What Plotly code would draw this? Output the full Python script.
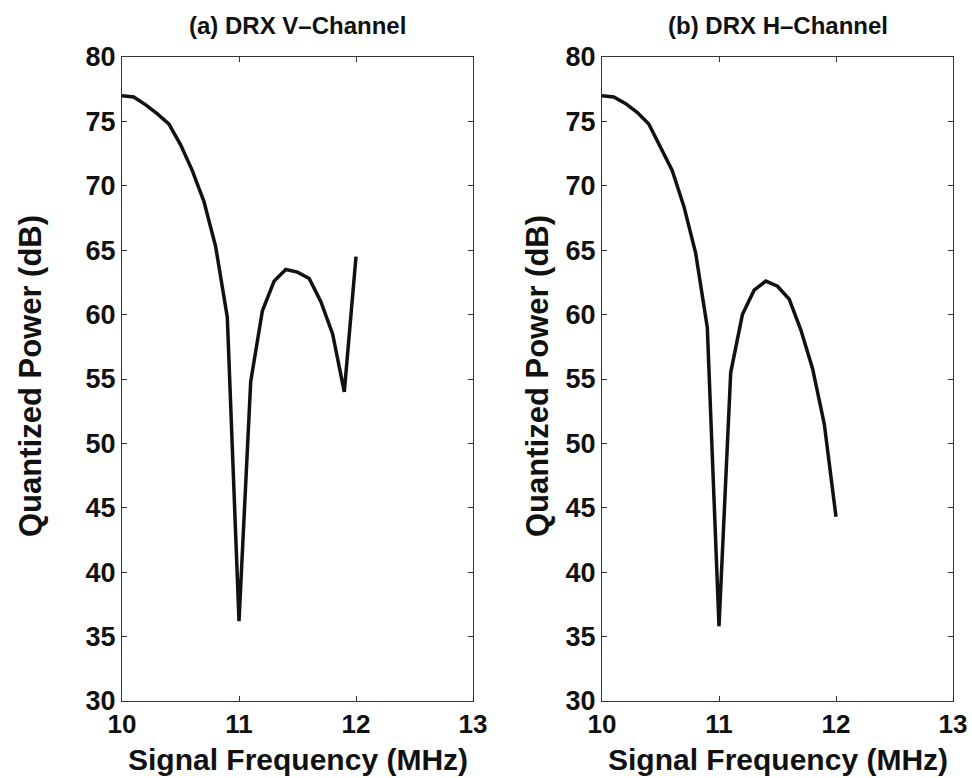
import plotly.graph_objects as go

freq = [10.0, 10.1, 10.2, 10.3, 10.4, 10.5, 10.6, 10.7, 10.8, 10.9, 11.0,
        11.1, 11.2, 11.3, 11.4, 11.5, 11.6, 11.7, 11.8, 11.9, 12.0]
v_channel = [77.0, 76.9, 76.3, 75.6, 74.8, 73.2, 71.2, 68.8, 65.3, 59.8, 36.2,
             54.8, 60.3, 62.6, 63.5, 63.3, 62.8, 61.0, 58.5, 54.0, 64.5]
h_channel = [77.0, 76.9, 76.4, 75.7, 74.8, 73.0, 71.2, 68.4, 64.8, 59.0, 35.8,
             55.5, 60.0, 61.9, 62.6, 62.2, 61.2, 58.8, 55.8, 51.5, 44.3]
x_ticks = [10, 11, 12, 13]
y_ticks = [30, 35, 40, 45, 50, 55, 60, 65, 70, 75, 80]
titles = ["(a) DRX V\u2013Channel", "(b) DRX H\u2013Channel"]
x_title = "Signal Frequency (MHz)"
y_title = "Quantized Power (dB)"

W, H = 972, 778
left_dom = [122 / W, 473 / W]
right_dom = [602 / W, 953 / W]
y_dom = [1 - 701 / H, 1 - 57 / H]
ytitle_x = [30 / W, 537 / W]

font = "Liberation Sans, Arial, sans-serif"

fig = go.Figure()
fig.add_trace(go.Scatter(x=freq, y=v_channel, mode="lines",
                         line=dict(color="#111111", width=3.5),
                         xaxis="x", yaxis="y", showlegend=False))
fig.add_trace(go.Scatter(x=freq, y=h_channel, mode="lines",
                         line=dict(color="#111111", width=3.5),
                         xaxis="x2", yaxis="y2", showlegend=False))

axis_common = dict(showgrid=False, zeroline=False, showline=True,
                   linecolor="#333333", linewidth=1, mirror="ticks",
                   ticks="inside", ticklen=5, tickcolor="#333333",
                   automargin=False)
tick_font = dict(family=font, size=27, color="#111111", weight="bold")
xtick_font = dict(family=font, size=26, color="#111111", weight="bold")

fig.update_layout(
    width=W, height=H,
    margin=dict(l=0, r=0, t=0, b=0, pad=0, autoexpand=False),
    paper_bgcolor="white", plot_bgcolor="white",
    xaxis=dict(domain=left_dom, range=[10, 13], tickvals=x_ticks,
               anchor="y", tickfont=xtick_font, **axis_common),
    yaxis=dict(domain=y_dom, range=[30, 80], tickvals=y_ticks,
               anchor="x", tickfont=tick_font, **axis_common),
    xaxis2=dict(domain=right_dom, range=[10, 13], tickvals=x_ticks,
                anchor="y2", tickfont=xtick_font, **axis_common),
    yaxis2=dict(domain=y_dom, range=[30, 80], tickvals=y_ticks,
                anchor="x2", tickfont=tick_font, **axis_common),
)

ann = []
for dom, t, yx in zip([left_dom, right_dom], titles, ytitle_x):
    cx = (dom[0] + dom[1]) / 2
    ann.append(dict(text="<b>" + t + "</b>", x=cx, y=1 - 26 / H,
                    xref="paper", yref="paper", showarrow=False,
                    xanchor="center", yanchor="middle",
                    font=dict(family=font, size=24, color="#111111")))
    ann.append(dict(text="<b>" + x_title + "</b>", x=cx, y=0,
                    xref="paper", yref="paper", showarrow=False,
                    xanchor="center", yanchor="bottom",
                    font=dict(family=font, size=30, color="#111111")))
    ann.append(dict(text="<b>" + y_title + "</b>", x=yx,
                    y=1 - 376 / H,
                    xref="paper", yref="paper", showarrow=False,
                    xanchor="center", yanchor="middle", textangle=-90,
                    font=dict(family=font, size=31, color="#111111")))
fig.update_layout(annotations=ann)

fig.write_html("out.html")
